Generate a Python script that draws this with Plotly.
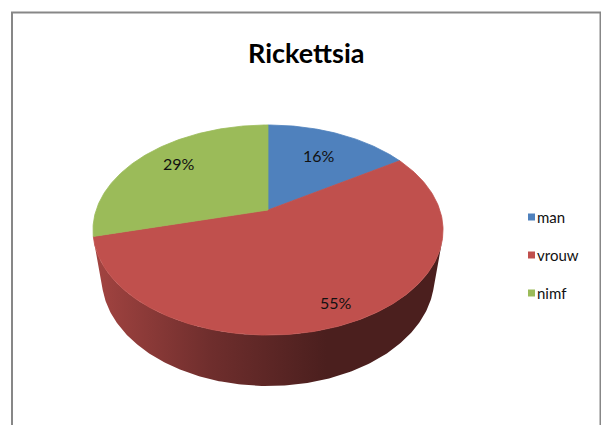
import numpy as np
import plotly.graph_objects as go

# --- data -------------------------------------------------------------
labels = ["man", "vrouw", "nimf"]
values = [16, 55, 29]
colors = ["#4F81BD", "#C0504D", "#9BBB59"]
title_text = "Rickettsia"

# --- 3D pie geometry (pixel space) -------------------------------------
W, H = 601, 425
CX, CY = 268.0, 210.0          # projected centre of the top face
PHI = np.radians(36.1)         # viewing elevation
DIST = 4.24                    # camera distance (in pie radii)
FOC = 728.6                    # focal length in pixels
THICK = 0.36                   # pie height (in pie radii)
SHADE = [0.85, 0.58, 0.39, 0.39]   # side darkening, left -> right
LABEL_R = [0.68, 0.85, 0.755]
LABEL_DA = [0.0, 0.0, 3.5]
FONT = "Lato, 'Open Sans', sans-serif"


def project(theta_deg, r=1.0, z=0.0):
    t = np.radians(theta_deg)
    X = r * np.sin(t)
    Y = r * np.cos(t)
    depth = DIST + Y * np.cos(PHI) - z * np.sin(PHI)
    up = Y * np.sin(PHI) + z * np.cos(PHI)
    return CX + FOC * X / depth, CY - FOC * up / depth


def shade(hexcol, f):
    h = hexcol.lstrip("#")
    rgb = [int(h[i:i + 2], 16) for i in (0, 2, 4)]
    return "#" + "".join(f"{int(round(c * f)):02x}" for c in rgb)


total = float(sum(values))
bounds = np.concatenate([[0.0], np.cumsum(values) / total * 360.0])

# side faces are visible where the outward normal faces the camera
vis_lim = np.degrees(np.arccos(-1.0 / (DIST * np.cos(PHI))))
vis_lo, vis_hi = vis_lim, 360.0 - vis_lim

fig = go.Figure()

# sides
for i, lab in enumerate(labels):
    a, b = max(bounds[i], vis_lo), min(bounds[i + 1], vis_hi)
    if b <= a:
        continue
    th = np.linspace(a, b, 200)
    xt, yt = project(th, 1.0, 0.0)
    xb, yb = project(th[::-1], 1.0, -THICK)
    xs = np.concatenate([xt, xb, xt[:1]])
    ys = np.concatenate([yt, yb, yt[:1]])
    n = len(SHADE)
    scale = [[k / (n - 1), shade(colors[i], f)] for k, f in enumerate(SHADE)]
    fig.add_trace(go.Scatter(
        x=xs, y=ys, mode="lines", fill="toself",
        line=dict(width=0, color=shade(colors[i], 0.6)),
        fillgradient=dict(type="horizontal", colorscale=scale),
        hoverinfo="skip", showlegend=False))

# top faces
for i, lab in enumerate(labels):
    th = np.linspace(bounds[i], bounds[i + 1], 200)
    xa, ya = project(th, 1.0, 0.0)
    xs = np.concatenate([[CX], xa, [CX]])
    ys = np.concatenate([[CY], ya, [CY]])
    fig.add_trace(go.Scatter(
        x=xs, y=ys, mode="lines", fill="toself", fillcolor=colors[i],
        line=dict(width=0.8, color=colors[i]),
        name=lab, hoverinfo="skip", showlegend=False))

# percentage labels
annotations = []
for i, v in enumerate(values):
    mid = (bounds[i] + bounds[i + 1]) / 2.0 + LABEL_DA[i]
    lx, ly = project(mid, LABEL_R[i], 0.0)
    annotations.append(dict(
        x=float(lx), y=float(ly), xref="x", yref="y",
        text=f"{round(v / total * 100)}%", showarrow=False,
        font=dict(family=FONT, size=16, color="#111111"),
        xanchor="center", yanchor="middle"))

# title
annotations.append(dict(
    x=305.5, y=52, xref="x", yref="y", text=f"<b>{title_text}</b>",
    showarrow=False, font=dict(family=FONT, size=27, color="#000000"),
    xanchor="center", yanchor="middle"))

# legend
leg_x, leg_y0, leg_dy = 531.5, 217.0, 38.0
leg_y = [leg_y0 + k * leg_dy for k in range(len(labels))]
fig.add_trace(go.Scatter(
    x=[leg_x] * len(labels), y=leg_y, mode="markers",
    marker=dict(symbol="square", size=7, color=colors, line=dict(width=0)),
    hoverinfo="skip", showlegend=False))
for k, lab in enumerate(labels):
    annotations.append(dict(
        x=leg_x + 3.5, y=leg_y[k], xref="x", yref="y", text=lab,
        showarrow=False, font=dict(family=FONT, size=15, color="#111111"),
        xanchor="left", yanchor="middle"))

fig.update_layout(
    width=W, height=H, margin=dict(l=0, r=0, t=0, b=0),
    paper_bgcolor="white", plot_bgcolor="white",
    xaxis=dict(range=[0, W], visible=False, fixedrange=True),
    yaxis=dict(range=[H, 0], visible=False, fixedrange=True),
    annotations=annotations,
    shapes=[dict(type="rect", xref="x", yref="y", x0=12, y0=12.5,
                 x1=600.5, y1=H + 10,
                 line=dict(color="#878787", width=2))],
    showlegend=False)

fig.write_html("out.html")
